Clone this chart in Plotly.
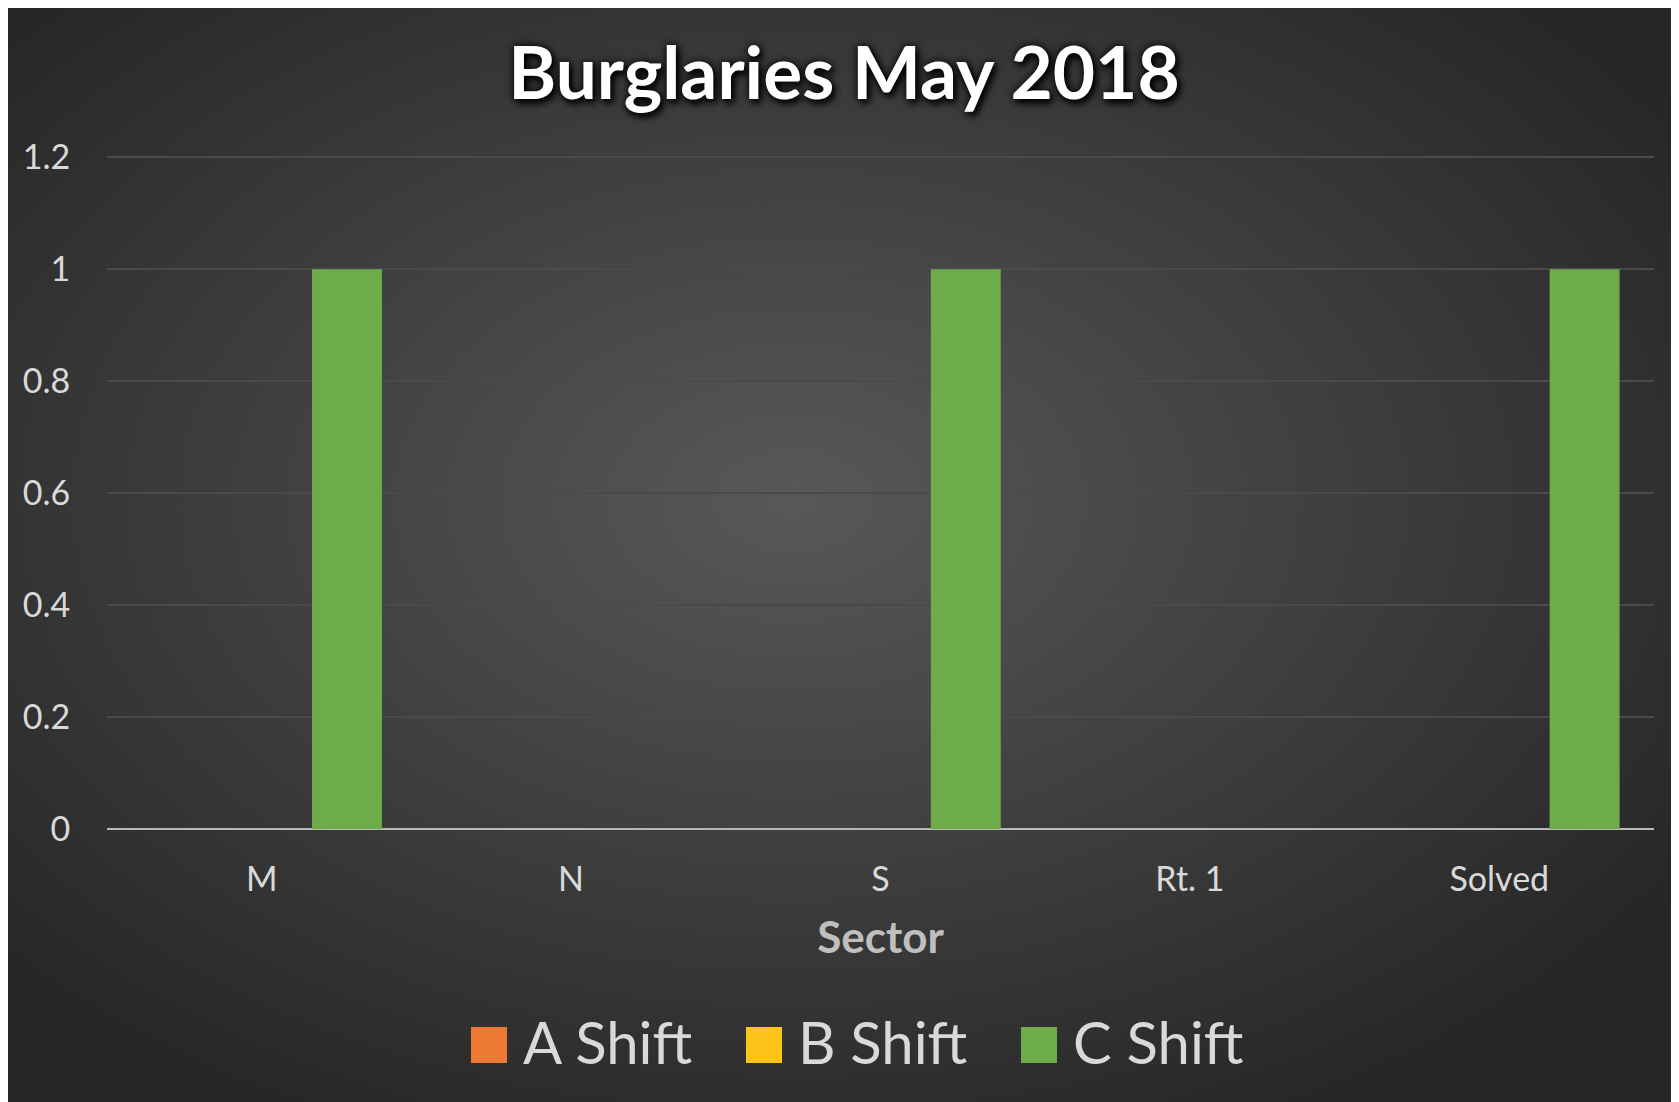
import base64
import plotly.graph_objects as go

# Data
sectors = ["M", "N", "S", "Rt. 1", "Solved"]
series_names = ["A Shift", "B Shift", "C Shift"]
a_shift = [0, 0, 0, 0, 0]
b_shift = [0, 0, 0, 0, 0]
c_shift = [1, 0, 1, 0, 1]
series_values = [a_shift, b_shift, c_shift]
series_colors = ["#ec7a35", "#fcc419", "#6dac48"]
y_ticks = [0, 0.2, 0.4, 0.6, 0.8, 1, 1.2]

# page body adds an 8px offset, so the figure is a bit smaller than the window
OFF = 8
W, H = 1679 - OFF, 1102 - OFF
ML, MR, MT, MB = 99, 25, 147, 273
plot_w = W - ML - MR
plot_h = H - MT - MB


def px_x(sx):
    # screen x -> paper x
    return (sx - OFF - ML) / plot_w


def px_y(sy):
    # screen y -> paper y
    return (H - MB - (sy - OFF)) / plot_h


# radial gradient background as an svg image
svg = """<svg xmlns='http://www.w3.org/2000/svg' width='1671' height='1094' viewBox='0 0 1671 1094' preserveAspectRatio='none'>
<defs><radialGradient id='g' cx='47%' cy='45%' r='64%'>
<stop offset='0%' stop-color='#585858'/><stop offset='100%' stop-color='#262626'/>
</radialGradient></defs><rect width='1671' height='1094' fill='url(#g)'/></svg>"""
bg_src = "data:image/svg+xml;base64," + base64.b64encode(svg.encode()).decode()

fig = go.Figure()
for name, vals, col in zip(series_names, series_values, series_colors):
    fig.add_trace(go.Bar(x=sectors, y=vals, name=name, marker_color=col,
                         marker_line_width=0, showlegend=False))

# legend drawn by hand so the swatches can be large
leg_start = 471
leg_step = 275
shapes = []
annotations = []
for i, (name, col) in enumerate(zip(series_names, series_colors)):
    x0 = leg_start + i * leg_step
    shapes.append(dict(type="rect", xref="paper", yref="paper",
                       x0=px_x(x0), x1=px_x(x0 + 36), y0=px_y(1063), y1=px_y(1027),
                       fillcolor=col, line_width=0))
    annotations.append(dict(text=name, xref="paper", yref="paper",
                            x=px_x(x0 + 50), y=px_y(1041), xanchor="left", yanchor="middle",
                            showarrow=False, font=dict(family="Lato", size=58, color="#d9d9d9")))

fig.update_layout(
    width=W, height=H,
    margin=dict(l=ML, r=MR, t=MT, b=MB),
    paper_bgcolor="#262626",
    plot_bgcolor="rgba(0,0,0,0)",
    barmode="group",
    bargap=0.173,
    bargroupgap=0.18,
    font=dict(family="Lato", color="#d9d9d9"),
    title=dict(text="<b>Burglaries May 2018</b>", x=(844 - OFF) / W, y=1 - (73 - OFF) / H,
               xanchor="center", yanchor="middle", xref="container", yref="container",
               font=dict(family="Lato", size=73, color="white",
                         shadow="0px 0px 9px black, 3px 4px 7px black")),
    images=[dict(source=bg_src, xref="paper", yref="paper",
                 x=px_x(OFF), y=px_y(OFF), sizex=px_x(OFF + W) - px_x(OFF),
                 sizey=px_y(OFF) - px_y(OFF + H),
                 xanchor="left", yanchor="top", sizing="stretch", layer="below")],
    shapes=shapes,
    annotations=annotations,
)

fig.update_xaxes(
    showgrid=False, showline=False, zeroline=False,
    ticks="outside", ticklen=20, tickcolor="rgba(0,0,0,0)",
    tickfont=dict(family="Lato", size=34, color="#d9d9d9"),
    title=dict(text="<b>Sector</b>", standoff=25,
               font=dict(family="Lato", size=44, color="#bfbfbf")),
)
# top of range a little above 1.2 so plotly keeps the 1.2 grid line (it drops lines at the edge)
fig.update_yaxes(
    range=[0, 1.204], tickvals=y_ticks, ticktext=[f"{v:g}" for v in y_ticks],
    showgrid=True, gridcolor="#4a4a4a", gridwidth=1.5,
    zeroline=True, zerolinecolor="#b8b8b8", zerolinewidth=2,
    ticks="outside", ticklen=29, tickcolor="rgba(0,0,0,0)",
    tickfont=dict(family="Lato", size=34, color="#d9d9d9"),
)

fig.write_html("out.html")
